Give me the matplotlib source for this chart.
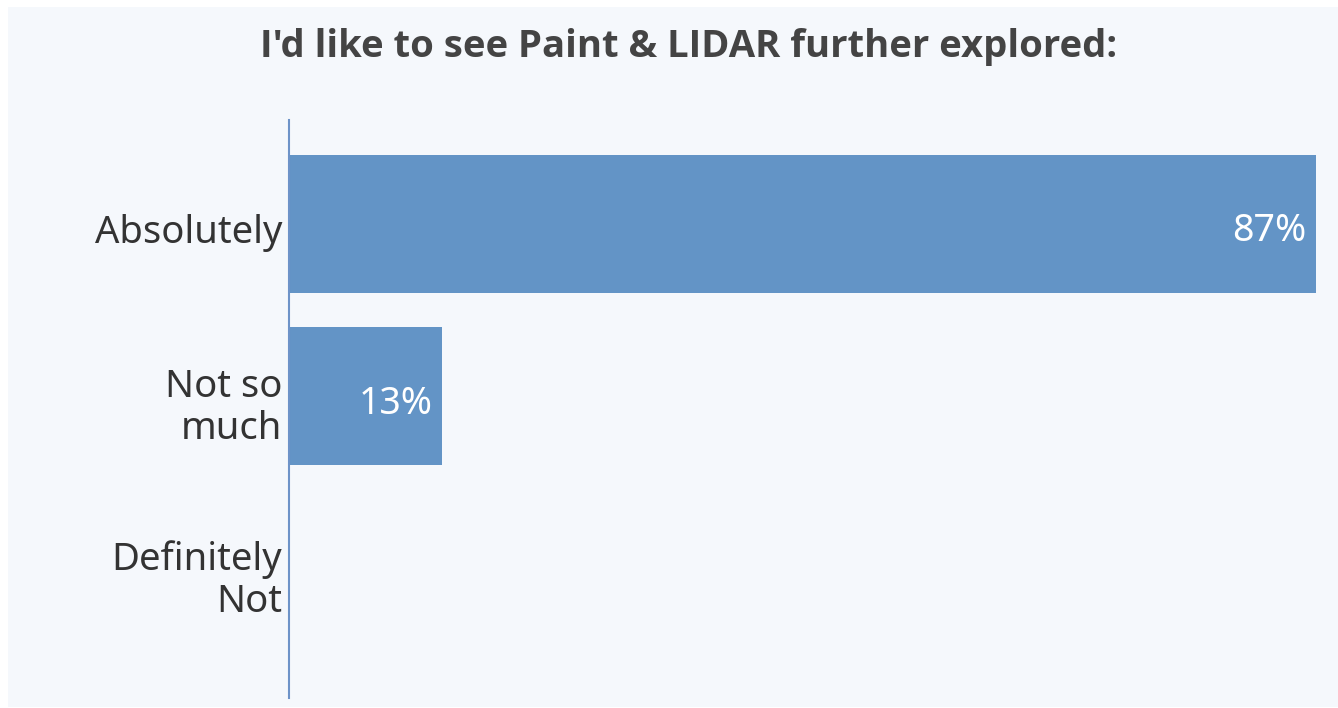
"""
Horizontal bar chart of survey answers on Paint & LIDAR exploration.
"""

import numpy as np
import matplotlib
matplotlib.use('Agg')
import matplotlib.pyplot as plt
from matplotlib.patches import Rectangle
from matplotlib.transforms import ScaledTranslation

## Survey categories and response shares in percent.
answers = ['Absolutely', 'Not so\nmuch', 'Definitely\nNot']
shares = [87, 13, 0]
title = "I'd like to see Paint & LIDAR further explored:"

## Colours.
panel_col = '#F5F8FC'
bar_col = '#6394C6'
text_col = '#333333'

W, H = 1338, 708
fig = plt.figure(figsize=(W/100, H/100), dpi=100, facecolor='white')

## Light panel behind the chart, leaving a thin white margin.
fig.patches.append(Rectangle((8/W, 1 - 707/H), (W - 8)/W, 700/H,
                             transform=fig.transFigure, facecolor=panel_col,
                             edgecolor='none', zorder=-5))

ax = fig.add_axes([289/W, 1 - 698/H, (1316 - 289)/W, (698 - 120)/H])
ax.set_facecolor('none')
ax.set_zorder(2)

ypos = np.arange(len(answers))
bars = ax.barh(ypos, shares, height=0.8, color=bar_col, edgecolor='none')

ax.set_xlim(0, max(shares))
ax.set_ylim(2.75, -0.6)

ax.set_yticks(ypos)
ax.set_yticklabels(answers, fontsize=27.5, color=text_col, family='Noto Sans',
                   linespacing=1.15, va='center_baseline')
ax.tick_params(axis='y', length=0, pad=5)
ax.set_xticks([])

## Nudge category labels slightly downward.
shift = ScaledTranslation(0, -5/100, fig.dpi_scale_trans)
for lb in ax.get_yticklabels():
    lb.set_transform(lb.get_transform() + shift)

for s in ['top', 'right', 'bottom']:
    ax.spines[s].set_visible(False)
ax.spines['left'].set_color('#6D93C8')
ax.spines['left'].set_linewidth(1.5)

## Percent labels inside the bar ends.
for y, v in zip(ypos, shares):
    if v > 0:
        ax.text(v - 0.8, y + 0.02, f'{v}%', ha='right', va='center_baseline',
                color='white', fontsize=27, family='Noto Sans')

fig.text(689/W, 1 - 47/H, title, ha='center', va='center', fontsize=27.5,
         fontweight='bold', color='#444444', family='Open Sans', zorder=3)

fig.savefig('out.png', dpi=100, facecolor='white')
